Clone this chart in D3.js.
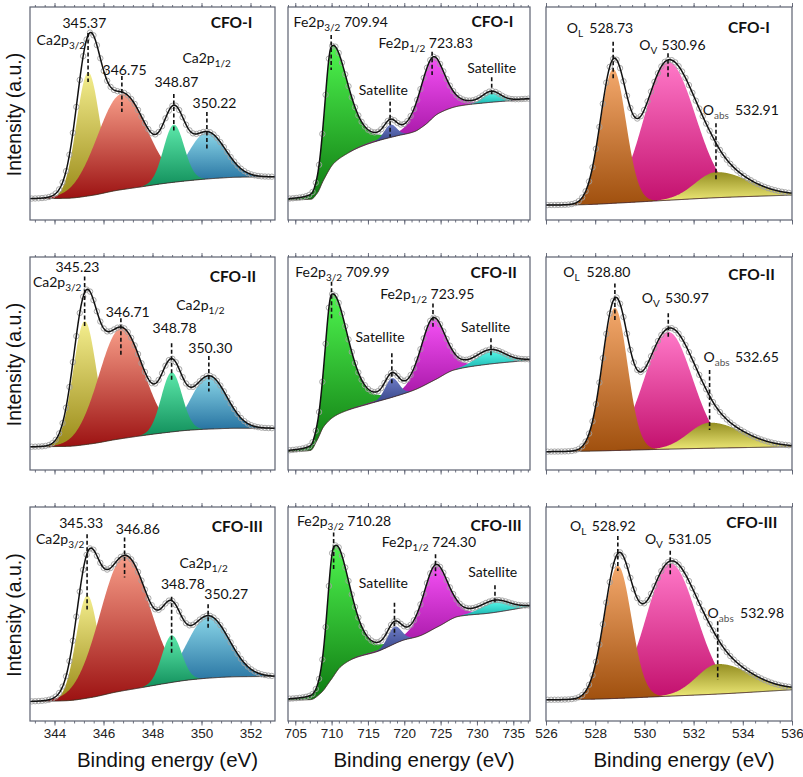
<!DOCTYPE html>
<html><head><meta charset="utf-8">
<script src="https://cdn.jsdelivr.net/npm/d3@7/dist/d3.min.js"></script>
<style>
html,body{margin:0;padding:0;background:#fff;}
text{white-space:pre;}
</style></head>
<body><svg id="chart" width="803" height="777"></svg>
<script>
// ---------------- DATA ----------------
const sampleNames = ["CFO-I", "CFO-II", "CFO-III"];

const caDomain = [343, 353];
const feDomain = [704, 737.3];
const oDomain  = [526, 536];
const caTicks = [344, 346, 348, 350, 352];
const feTicks = [705, 710, 715, 720, 725, 730, 735];
const oTicks  = [526, 528, 530, 532, 534, 536];

// Peak components: centre (eV), height above background (% of frame), FWHM left/right, Lorentz fraction
// Ca 2p : [Ca2p3/2 (a), Ca2p3/2 (b), Ca2p1/2 (a), Ca2p1/2 (b)]
const ca1Peaks = [
  {c: 345.37, a: 58, wl: 1.11, wr: 1.11, m: 0},
  {c: 346.75, a: 45, wl: 2.36, wr: 2.36, m: 0},
  {c: 348.87, a: 27, wl: 0.99, wr: 0.99, m: 0},
  {c: 350.22, a: 22, wl: 1.77, wr: 1.77, m: 0}];
const ca2Peaks = [
  {c: 345.23, a: 58, wl: 1.11, wr: 1.11, m: 0},
  {c: 346.71, a: 52, wl: 2.12, wr: 2.12, m: 0},
  {c: 348.78, a: 28, wl: 0.99, wr: 0.99, m: 0},
  {c: 350.30, a: 25, wl: 1.70, wr: 1.70, m: 0}];
const ca3Peaks = [
  {c: 345.33, a: 48, wl: 1.06, wr: 1.06, m: 0},
  {c: 346.86, a: 63, wl: 2.36, wr: 2.36, m: 0},
  {c: 348.78, a: 22, wl: 0.94, wr: 0.94, m: 0},
  {c: 350.27, a: 29, wl: 2.00, wr: 2.00, m: 0}];
// Fe 2p : [Fe2p3/2, satellite, Fe2p1/2, satellite]
const fe1Peaks = [
  {c: 709.94, a: 56, wl: 2.1, wr: 5.2, m: 0.3},
  {c: 718.10, a: 6,  wl: 2.0, wr: 2.0, m: 0},
  {c: 723.83, a: 28, wl: 4.0, wr: 4.0, m: 0.3},
  {c: 732.00, a: 4.5, wl: 2.8, wr: 2.8, m: 0}];
const fe2Peaks = [
  {c: 709.99, a: 58, wl: 2.1, wr: 5.2, m: 0.3},
  {c: 718.30, a: 9,  wl: 2.2, wr: 2.2, m: 0},
  {c: 723.95, a: 29, wl: 4.0, wr: 4.0, m: 0.3},
  {c: 731.90, a: 6,  wl: 4.5, wr: 4.5, m: 0}];
const fe3Peaks = [
  {c: 710.28, a: 60, wl: 2.1, wr: 5.0, m: 0.3},
  {c: 718.65, a: 8,  wl: 2.2, wr: 2.2, m: 0},
  {c: 724.30, a: 29, wl: 4.0, wr: 4.0, m: 0.3},
  {c: 732.50, a: 5,  wl: 4.5, wr: 4.5, m: 0}];
// O 1s : [O_L, O_V, O_abs]
const o1Peaks = [
  {c: 528.73, a: 63, wl: 1.22, wr: 1.22, m: 0},
  {c: 530.96, a: 65, wl: 2.3,  wr: 2.6,  m: 0},
  {c: 532.91, a: 12, wl: 2.0,  wr: 3.2,  m: 0}];
const o2Peaks = [
  {c: 528.80, a: 67, wl: 1.2,  wr: 1.2,  m: 0},
  {c: 530.97, a: 55, wl: 2.3,  wr: 2.3,  m: 0},
  {c: 532.65, a: 12, wl: 2.0,  wr: 3.2,  m: 0}];
const o3Peaks = [
  {c: 528.92, a: 62, wl: 1.3,  wr: 1.3,  m: 0},
  {c: 531.05, a: 62, wl: 2.3,  wr: 2.5,  m: 0},
  {c: 532.98, a: 14, wl: 2.0,  wr: 3.2,  m: 0}];

// Backgrounds (Shirley), [eV, % of frame]
const ca1Base = [[343,10],[344.5,10.2],[345.5,11.5],[346.5,13.8],[347.5,15.5],[348.5,17.2],[349.5,18.5],[350.5,19.5],[351.5,20.1],[353,20.3]];
const ca2Base = [[343,10.9],[344.5,11.1],[345.5,12.3],[346.5,14.3],[347.5,16],[348.5,17.5],[349.5,18.7],[350.5,19.3],[351.5,19.6],[353,19.6]];
const ca3Base = [[343,9.1],[344.5,9.5],[345.5,11],[346.5,13.5],[347.5,15.5],[348.5,17.5],[349.5,19.2],[350.5,20.2],[351.5,20.7],[353,20.8]];
const fe1Base = [[704,9.4],[707.2,9.8],[708,12.5],[708.9,18.8],[710.3,26.6],[712.2,31.3],[714,34.4],[716.8,37.6],[719,39.5],[721.4,41.5],[722.8,44.5],[724.7,50],[727.5,53.5],[731.1,55],[737.3,56.7]];
const fe2Base = [[704,8.6],[707.1,9.2],[708,14],[708.9,20.3],[710.3,25],[711.7,27.4],[715.4,31.3],[718.6,34.4],[721.4,37.6],[724.2,42.3],[726.9,47],[730.7,49.3],[737.3,51.6]];
const fe3Base = [[704,9.8],[707.1,10],[708.5,13],[709.9,19.2],[711.25,25.4],[713.1,29.3],[716.3,32.5],[720,37.9],[721.9,39.5],[724.7,44.2],[727.5,48.9],[731.7,50.4],[737.3,53.5]];
const o1Base = [[526,7],[527.5,7.2],[529,8],[531,9.3],[533,10.5],[536,11.7]];
const o2Base = [[526,8.6],[527.5,8.8],[529,9.2],[531,9.8],[533,10.3],[536,10.9]];
const o3Base = [[526,9.9],[527.5,10.1],[529,10.6],[531,11.6],[533,12.6],[536,14.6]];

// Text annotations: [eV, %] positions, parts [[text, isSubscript]]
const S = (t) => [[t, 0]];
const ca1Texts = [
  {x: 345.22, y: 90.1, a: "middle", p: S("345.37")},
  {x: 343.27, y: 82.2, a: "start",  p: [["Ca2p",0],["3/2",1]]},
  {x: 346.86, y: 68.0, a: "middle", p: S("346.75")},
  {x: 349.22, y: 73.7, a: "start",  p: [["Ca2p",0],["1/2",1]]},
  {x: 348.98, y: 62.4, a: "middle", p: S("348.87")},
  {x: 350.53, y: 52.6, a: "middle", p: S("350.22")}];
const ca2Texts = [
  {x: 344.94, y: 93.1, a: "middle", p: S("345.23")},
  {x: 343.12, y: 86.0, a: "start",  p: [["Ca2p",0],["3/2",1]]},
  {x: 346.99, y: 72.0, a: "middle", p: S("346.71")},
  {x: 348.97, y: 75.1, a: "start",  p: [["Ca2p",0],["1/2",1]]},
  {x: 348.90, y: 64.2, a: "middle", p: S("348.78")},
  {x: 350.36, y: 54.8, a: "middle", p: S("350.30")}];
const ca3Texts = [
  {x: 345.09, y: 90.0, a: "middle", p: S("345.33")},
  {x: 343.24, y: 82.6, a: "start",  p: [["Ca2p",0],["3/2",1]]},
  {x: 347.40, y: 87.3, a: "middle", p: S("346.86")},
  {x: 349.10, y: 71.7, a: "start",  p: [["Ca2p",0],["1/2",1]]},
  {x: 349.24, y: 61.5, a: "middle", p: S("348.78")},
  {x: 351.01, y: 56.8, a: "middle", p: S("350.27")}];
const fe1Texts = [
  {x: 704.77, y: 90.8, a: "start", p: [["Fe2p",0],["3/2",1],[" 709.94",0]]},
  {x: 716.45, y: 80.6, a: "start", p: [["Fe2p",0],["1/2",1],[" 723.83",0]]},
  {x: 717.13, y: 58.7, a: "middle", p: S("Satellite")},
  {x: 732.03, y: 68.9, a: "middle", p: S("Satellite")}];
const fe2Texts = [
  {x: 705.00, y: 90.8, a: "start", p: [["Fe2p",0],["3/2",1],[" 709.99",0]]},
  {x: 716.68, y: 80.1, a: "start", p: [["Fe2p",0],["1/2",1],[" 723.95",0]]},
  {x: 716.68, y: 60.2, a: "middle", p: S("Satellite")},
  {x: 731.20, y: 64.9, a: "middle", p: S("Satellite")}];
const fe3Texts = [
  {x: 705.23, y: 91.2, a: "start", p: [["Fe2p",0],["3/2",1],[" 710.28",0]]},
  {x: 716.90, y: 81.1, a: "start", p: [["Fe2p",0],["1/2",1],[" 724.30",0]]},
  {x: 717.13, y: 62.3, a: "middle", p: S("Satellite")},
  {x: 732.17, y: 67.5, a: "middle", p: S("Satellite")}];
const o1Texts = [
  {x: 526.84, y: 87.6, a: "start", p: [["O",0],["L",1]]},
  {x: 527.76, y: 87.6, a: "start", p: S("528.73")},
  {x: 529.79, y: 79.8, a: "start", p: [["O",0],["V",1]]},
  {x: 530.70, y: 79.8, a: "start", p: S("530.96")},
  {x: 532.37, y: 49.3, a: "start", p: [["O",0],["abs",1]]},
  {x: 533.68, y: 49.3, a: "start", p: S("532.91")}];
const o2Texts = [
  {x: 526.70, y: 90.8, a: "start", p: [["O",0],["L",1]]},
  {x: 527.65, y: 90.8, a: "start", p: S("528.80")},
  {x: 529.89, y: 78.2, a: "start", p: [["O",0],["V",1]]},
  {x: 530.84, y: 78.2, a: "start", p: S("530.97")},
  {x: 532.40, y: 50.9, a: "start", p: [["O",0],["abs",1]]},
  {x: 533.68, y: 50.9, a: "start", p: S("532.65")}];
const o3Texts = [
  {x: 526.98, y: 88.9, a: "start", p: [["O",0],["L",1]]},
  {x: 527.86, y: 88.9, a: "start", p: S("528.92")},
  {x: 530.02, y: 82.6, a: "start", p: [["O",0],["V",1]]},
  {x: 530.95, y: 82.6, a: "start", p: S("531.05")},
  {x: 532.57, y: 48.2, a: "start", p: [["O",0],["abs",1]]},
  {x: 533.89, y: 48.2, a: "start", p: S("532.98")}];
// sample tag positions [eV (right end), %]
const caTag = [[352.08, 90.1], [352.23, 88.4], [352.50, 88.1]];
const feTag = [[735.00, 90.8], [735.50, 90.0], [736.15, 88.6]];
const oTag  = [[535.10, 87.6], [535.30, 89.2], [535.40, 90.0]];

// Dashed markers: eV, from %, to %
const ca1Dash = [[345.37,87.8,64.8],[346.75,67.6,50.7],[348.87,59.2,41.3],[350.22,50.7,32.9]];
const ca2Dash = [[345.23,90.8,67.3],[346.71,71.2,53.2],[348.78,59.5,41.5],[350.30,53.5,36.8]];
const ca3Dash = [[345.33,87.3,52.1],[346.86,85.8,67.0],[348.78,58.1,31.8],[350.27,54.5,43.5]];
const fe1Dash = [[709.94,86.9,70.4],[723.83,79.0,68.1],[718.05,55.5,39.1],[732.03,67.0,57.9]];
const fe2Dash = [[709.99,88.4,70.4],[723.95,78.2,67.3],[718.29,54.8,39.9],[731.93,61.8,53.2]];
const fe3Dash = [[710.28,88.1,70.9],[724.30,77.9,67.7],[718.65,55.3,39.6],[732.48,63.4,54.5]];
const o1Dash = [[528.73,83.7,66.5],[530.96,78.3,66.5],[532.91,45.4,18.0]];
const o2Dash = [[528.80,87.6,70.4],[530.97,73.6,61.8],[532.65,46.9,18.8]];
const o3Dash = [[528.92,86.5,70.1],[531.05,79.5,67.5],[532.98,46.6,19.2]];

// ---------------- LAYOUT / STYLE ----------------
const colBox = [{x0: 30, x1: 275}, {x0: 288, x1: 530}, {x0: 546, x1: 792}];
const rowBox = [{y0: 7, y1: 220}, {y0: 257, y1: 470}, {y0: 507, y1: 721}];

const columns = [
  {domain: caDomain, ticks: caTicks, minor: 0.4, step: 0.02, dot: 0.14,
   peaks: [ca1Peaks, ca2Peaks, ca3Peaks], base: [ca1Base, ca2Base, ca3Base],
   texts: [ca1Texts, ca2Texts, ca3Texts], dash: [ca1Dash, ca2Dash, ca3Dash], tag: caTag,
   colors: [["#f4ee8e","#9a8a18"],["#f79d88","#9c1212"],["#5ce8aa","#12905c"],["#8ad6e8","#206c9c"]],
   order: [0, 1, 3, 2]},
  {domain: feDomain, ticks: feTicks, minor: 1, step: 0.05, dot: 0.45,
   peaks: [fe1Peaks, fe2Peaks, fe3Peaks], base: [fe1Base, fe2Base, fe3Base],
   texts: [fe1Texts, fe2Texts, fe3Texts], dash: [fe1Dash, fe2Dash, fe3Dash], tag: feTag,
   colors: [["#4ef44e","#0f7a12"],["#6c7ac4","#38478a"],["#f450f4","#9a0e9a"],["#55f8e8","#1ab2ae"]],
   order: [0, 2, 1, 3]},
  {domain: oDomain, ticks: oTicks, minor: 0.5, step: 0.02, dot: 0.14,
   peaks: [o1Peaks, o2Peaks, o3Peaks], base: [o1Base, o2Base, o3Base],
   texts: [o1Texts, o2Texts, o3Texts], dash: [o1Dash, o2Dash, o3Dash], tag: oTag,
   colors: [["#f3a86c","#a0500e"],["#ff78c8","#c20f6c"],["#948e22","#ede876"]],
   order: [1, 2, 0]}
];

const FONT = "Lato, 'Open Sans', sans-serif";
const AXFONT = "'Liberation Sans', Arial, sans-serif";

// ---------------- HELPERS ----------------
function makeMono(pts) {
  const n = pts.length, xs = pts.map(p => p[0]), ys = pts.map(p => p[1]);
  const dx = [], s = [];
  for (let i = 0; i < n - 1; i++) { dx[i] = xs[i+1] - xs[i]; s[i] = (ys[i+1] - ys[i]) / dx[i]; }
  const m = new Array(n);
  m[0] = s[0]; m[n-1] = s[n-2];
  for (let i = 1; i < n - 1; i++) {
    if (s[i-1] * s[i] <= 0) m[i] = 0;
    else m[i] = 3 * (dx[i-1] + dx[i]) / ((2*dx[i] + dx[i-1]) / s[i-1] + (dx[i] + 2*dx[i-1]) / s[i]);
  }
  return x => {
    if (x <= xs[0]) return ys[0];
    if (x >= xs[n-1]) return ys[n-1];
    const i = Math.min(n - 2, d3.bisectRight(xs, x) - 1);
    const h = dx[i], t = (x - xs[i]) / h, t2 = t*t, t3 = t2*t;
    return (2*t3 - 3*t2 + 1)*ys[i] + (t3 - 2*t2 + t)*h*m[i] + (-2*t3 + 3*t2)*ys[i+1] + (t3 - t2)*h*m[i+1];
  };
}
function peakVal(p, x) {
  const d = x - p.c, w = d < 0 ? p.wl : p.wr, u = d / w;
  return p.a * ((1 - p.m) * Math.exp(-4 * Math.LN2 * u * u) + p.m / (1 + 4 * u * u));
}
function addText(g, x, y, t) {
  const el = g.append("text").attr("x", x(t.x)).attr("y", y(t.y))
    .attr("text-anchor", t.a).attr("font-family", FONT).attr("font-size", 14).attr("fill", "#111");
  t.p.forEach(([s, sub], i) => {
    const sp = el.append("tspan").text(s);
    if (sub) { sp.attr("font-size", 10).attr("dy", 4); if (s === "abs") sp.attr("fill", "#555"); }
    else if (i > 0 && t.p[i-1][1]) sp.attr("dy", -4);
  });
}

// ---------------- DRAW ----------------
const svg = d3.select("#chart");
svg.append("rect").attr("width", 803).attr("height", 777).attr("fill", "#fff");
const defs = svg.append("defs");
let gid = 0;

columns.forEach((col, ci) => {
  const cb = colBox[ci];
  const x = d3.scaleLinear().domain(col.domain).range([cb.x0, cb.x1]);
  rowBox.forEach((rb, ri) => {
    const y = d3.scaleLinear().domain([0, 100]).range([rb.y1, rb.y0]);
    const g = svg.append("g");
    const clipId = "clip" + ci + "_" + ri;
    defs.append("clipPath").attr("id", clipId).append("rect")
      .attr("x", cb.x0).attr("y", rb.y0).attr("width", cb.x1 - cb.x0).attr("height", rb.y1 - rb.y0);
    const pg = g.append("g").attr("clip-path", `url(#${clipId})`);

    const peaks = col.peaks[ri];
    const base = makeMono(col.base[ri]);
    const xs = d3.range(col.domain[0], col.domain[1] + col.step / 2, col.step);

    // component fills
    col.order.forEach(k => {
      const p = peaks[k];
      const pts = xs.map(v => ({x: v, b: base(v), v: peakVal(p, v)})).filter(d => d.v > 0.25);
      const id = "grad" + (gid++);
      const gr = defs.append("linearGradient").attr("id", id).attr("x1", 0).attr("y1", 0).attr("x2", 0).attr("y2", 1);
      gr.append("stop").attr("offset", "0%").attr("stop-color", col.colors[k][0]);
      gr.append("stop").attr("offset", "100%").attr("stop-color", col.colors[k][1]);
      pg.append("path").datum(pts)
        .attr("d", d3.area().x(d => x(d.x)).y0(d => y(d.b)).y1(d => y(d.b + d.v)))
        .attr("fill", `url(#${id})`);
    });

    // background line
    pg.append("path").datum(xs)
      .attr("d", d3.line().x(v => x(v)).y(v => y(base(v))))
      .attr("fill", "none").attr("stroke", "#3b2b25").attr("stroke-width", 1);

    const env = v => base(v) + d3.sum(peaks, p => peakVal(p, v));
    // experimental points
    const dots = d3.range(col.domain[0] + col.dot / 2, col.domain[1], col.dot);
    pg.selectAll("circle.pt").data(dots).enter().append("circle")
      .attr("cx", v => x(v)).attr("cy", v => y(env(v))).attr("r", 2.7)
      .attr("fill", "none").attr("stroke", "#a0a0a0").attr("stroke-width", 0.9);
    // envelope
    pg.append("path").datum(xs)
      .attr("d", d3.line().x(v => x(v)).y(v => y(env(v))))
      .attr("fill", "none").attr("stroke", "#111").attr("stroke-width", 1.5);

    // dashed markers
    col.dash[ri].forEach(([e, a, b]) => {
      g.append("line").attr("x1", x(e)).attr("x2", x(e)).attr("y1", y(a)).attr("y2", y(b))
        .attr("stroke", "#111").attr("stroke-width", 1.6).attr("stroke-dasharray", "4,2.5");
    });
    // texts
    col.texts[ri].forEach(t => addText(g, x, y, t));
    g.append("text").attr("x", x(col.tag[ri][0])).attr("y", y(col.tag[ri][1]))
      .attr("text-anchor", "end").attr("font-family", FONT).attr("font-weight", "bold")
      .attr("font-size", 15.5).attr("fill", "#111").text(sampleNames[ri]);

    // axes (bottom + top ticks)
    const minorTicks = d3.range(Math.ceil(col.domain[0] / col.minor) * col.minor, col.domain[1] + 1e-9, col.minor);
    const last = ri === 2;
    const axB = g.append("g").attr("transform", `translate(0,${rb.y1})`)
      .call(d3.axisBottom(x).tickValues(col.ticks).tickSize(4.5).tickPadding(3)
        .tickFormat(last ? d3.format("d") : ""));
    const axBm = g.append("g").attr("transform", `translate(0,${rb.y1})`)
      .call(d3.axisBottom(x).tickValues(minorTicks).tickSize(2.5).tickFormat(""));
    const axT = g.append("g").attr("transform", `translate(0,${rb.y0})`)
      .call(d3.axisTop(x).tickValues(col.ticks).tickSize(4).tickFormat(""));
    const axTm = g.append("g").attr("transform", `translate(0,${rb.y0})`)
      .call(d3.axisTop(x).tickValues(minorTicks).tickSize(2).tickFormat(""));
    [axB, axBm, axT, axTm].forEach(a => {
      a.select(".domain").remove();
      a.selectAll("line").attr("stroke", "#5c6170").attr("stroke-width", 0.9);
      a.selectAll("text").attr("font-family", AXFONT).attr("font-size", 13.5).attr("fill", "#222");
    });
    // frame
    g.append("rect").attr("x", cb.x0).attr("y", rb.y0).attr("width", cb.x1 - cb.x0).attr("height", rb.y1 - rb.y0)
      .attr("fill", "none").attr("stroke", "#5c6170").attr("stroke-width", 1.2);

    if (ci === 0) {
      const cy = (rb.y0 + rb.y1) / 2 + 1;
      svg.append("text").attr("transform", `translate(21,${cy}) rotate(-90)`)
        .attr("text-anchor", "middle").attr("font-family", AXFONT).attr("font-size", 19.5)
        .attr("fill", "#111").text("Intensity (a.u.)");
    }
  });
  svg.append("text").attr("x", (cb.x0 + cb.x1) / 2 + 15).attr("y", 767)
    .attr("text-anchor", "middle").attr("font-family", AXFONT).attr("font-size", 20.5)
    .attr("fill", "#111").text("Binding energy (eV)");
});
</script>
</body></html>
